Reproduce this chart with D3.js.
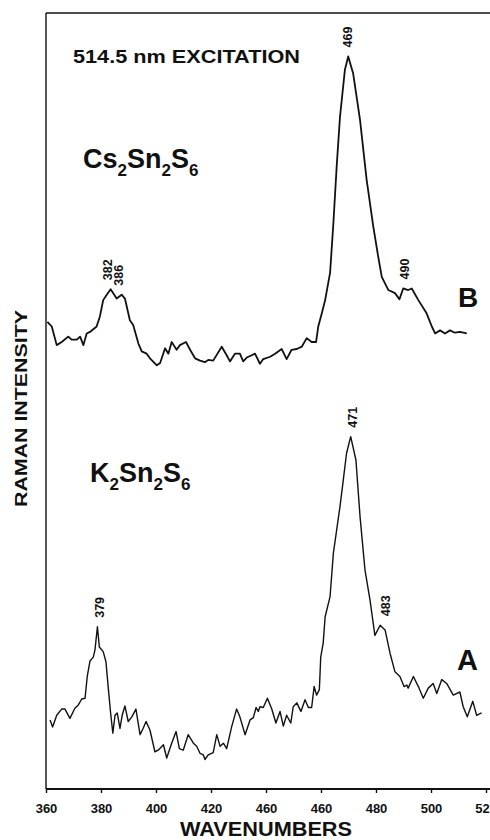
<!DOCTYPE html>
<html>
<head>
<meta charset="utf-8">
<script src="https://cdn.jsdelivr.net/npm/d3@7/dist/d3.min.js"></script>
<style>
  html, body { margin: 0; padding: 0; background: #fff; }
  svg { display: block; }
  text { font-family: "Liberation Sans", Arial, Helvetica, sans-serif; font-weight: bold; fill: #111; }
</style>
</head>
<body>
<svg id="chart" width="490" height="840"></svg>
<script>
// ---- data ----
const tickValues = [360, 380, 400, 420, 440, 460, 480, 500, 520];
const tickLabels = ["360", "380", "400", "420", "460", "460", "480", "500", "52"];

// Cs2Sn2S6 (trace B): [wavenumber, intensity (arb.)]
const spectrumB = [
  [360.5,60.2],[362.1,59.6],[363.9,57.2],[365.7,57.6],[368.1,58.3],[369.3,57.9],[371.2,57.9],[372.4,58.3],
  [373.6,57.2],[374.8,58.7],[376.0,58.9],[378.4,59.6],[379.6,60.9],[380.8,63.0],[382.1,63.7],[383.5,64.4],
  [385.7,63.2],[387.5,63.7],[388.7,63.2],[390.5,60.4],[391.7,59.8],[393.6,57.4],[394.8,56.4],[396.6,56.1],
  [397.8,55.5],[400.3,54.6],[401.5,54.9],[403.3,56.8],[404.5,56.1],[405.7,57.6],[407.5,56.6],[408.7,57.2],
  [410.9,57.6],[412.4,56.6],[414.2,55.5],[416.0,55.2],[417.8,55.0],[419.0,55.3],[420.8,55.2],[423.9,57.0],
  [425.7,55.9],[426.9,55.1],[428.7,56.1],[430.5,56.1],[431.7,55.1],[433.0,55.6],[434.8,55.9],[436.0,56.1],
  [437.8,54.8],[439.0,55.4],[441.5,55.7],[443.3,56.1],[445.7,56.7],[447.5,55.4],[449.3,56.6],[451.2,56.7],
  [453.0,57.0],[454.8,58.1],[456.6,57.6],[458.2,57.6],[459.0,59.6],[460.3,61.3],[461.5,63.0],[463.3,66.5],
  [464.5,72.9],[465.7,80.2],[466.9,86.6],[468.7,92.7],[469.9,94.4],[471.7,92.2],[474.2,86.2],[476.6,78.5],
  [479.0,72.5],[480.8,68.6],[482.1,66.0],[484.5,64.3],[486.9,63.9],[488.5,63.1],[489.9,64.5],[491.7,64.3],
  [493.0,64.5],[495.4,63.0],[498.4,61.3],[500.3,59.6],[501.5,58.7],[503.3,59.1],[505.1,58.7],[506.9,59.1],
  [508.7,58.8],[510.5,58.9],[513.0,58.7]
];

// K2Sn2S6 (trace A): [wavenumber, intensity (arb.)]
const spectrumA = [
  [361.5,8.9],[362.4,8.0],[363.9,9.5],[365.7,10.3],[366.9,10.3],[368.7,9.1],[370.5,10.4],[371.7,10.8],
  [373.0,11.6],[374.2,11.7],[375.0,14.5],[376.0,16.5],[377.2,17.0],[377.8,17.9],[378.7,20.9],[379.4,18.3],
  [380.8,17.7],[381.8,16.4],[382.7,12.8],[383.5,9.8],[384.3,7.2],[385.1,9.5],[385.9,9.8],[386.9,7.8],
  [387.7,9.5],[388.7,10.7],[389.9,8.7],[391.2,9.3],[392.7,10.3],[394.2,7.0],[395.3,7.8],[396.4,8.7],
  [397.8,7.6],[399.6,4.8],[400.8,5.0],[402.7,5.7],[403.9,4.0],[405.7,5.9],[407.3,7.4],[408.5,5.2],
  [409.9,5.0],[411.7,7.0],[413.6,5.9],[414.8,5.5],[416.0,4.6],[417.2,4.4],[417.8,3.8],[419.0,4.4],
  [420.8,4.7],[422.1,7.0],[423.3,5.5],[424.5,5.9],[425.7,5.2],[427.5,8.0],[429.3,10.3],[430.5,9.3],
  [432.4,7.0],[434.2,8.9],[435.4,9.2],[436.4,10.5],[437.2,10.0],[437.8,10.6],[439.0,10.5],[440.5,11.7],
  [442.1,10.3],[443.6,8.5],[445.1,10.0],[446.3,8.1],[447.5,9.5],[449.0,8.5],[449.9,10.6],[451.2,11.1],
  [452.7,10.0],[454.2,11.5],[455.4,10.5],[456.6,10.5],[457.5,13.2],[458.4,12.1],[459.4,12.8],[459.9,17.0],
  [460.8,18.8],[461.5,22.2],[463.3,24.8],[464.5,30.4],[465.7,33.4],[466.9,36.4],[468.1,39.8],[469.3,43.3],
  [470.8,45.4],[472.7,42.4],[474.2,35.1],[476.0,28.2],[477.8,24.4],[479.6,19.8],[481.5,21.1],[483.3,20.5],
  [485.1,17.5],[486.9,15.1],[488.7,14.5],[490.2,13.2],[491.2,13.4],[491.7,13.0],[493.6,14.5],[495.4,13.2],
  [497.2,11.7],[499.0,13.0],[500.8,13.6],[502.1,12.3],[503.9,14.1],[505.7,13.6],[508.1,12.1],[510.5,12.5],
  [511.7,10.6],[513.2,9.3],[515.2,11.3],[516.6,9.5],[518.4,9.8]
];

const peaksB = [{wn: 469, label: "469"}, {wn: 382, label: "382"}, {wn: 386, label: "386"}, {wn: 490, label: "490"}];
const peaksA = [{wn: 471, label: "471"}, {wn: 379, label: "379"}, {wn: 483, label: "483"}];

// ---- drawing ----
const W = 490, H = 840;
const svg = d3.select("#chart");
const mLeft = 46, mRight = 486, mBottom = 789, mTop = 13;

const x = d3.scaleLinear().domain([360, 520]).range([mLeft, mRight]);
const y = d3.scaleLinear().domain([0, 100]).range([mBottom, mTop]);

// frame
const frame = svg.append("g").attr("stroke", "#111").attr("fill", "none");
frame.append("line").attr("x1", mLeft).attr("x2", W).attr("y1", mTop).attr("y2", mTop).attr("stroke-width", 1.6);
frame.append("line").attr("x1", mLeft).attr("x2", mLeft).attr("y1", mTop).attr("y2", mBottom).attr("stroke-width", 1.4);
frame.append("line").attr("x1", mLeft).attr("x2", W).attr("y1", mBottom).attr("y2", mBottom).attr("stroke-width", 1.8);

// x axis
const axis = d3.axisBottom(x)
  .tickValues(tickValues)
  .tickFormat((d, i) => tickLabels[i])
  .tickSize(4)
  .tickSizeOuter(0);
const gx = svg.append("g").attr("transform", `translate(0,${mBottom})`).call(axis);
gx.select(".domain").remove();
gx.selectAll(".tick line").attr("stroke", "#111").attr("stroke-width", 1.4);
gx.selectAll(".tick text")
  .attr("y", 24).attr("dy", 0)
  .attr("dx", (d, i) => i === tickValues.length - 1 ? -4 : 0)
  .style("font-family", '"Liberation Sans", Arial, sans-serif')
  .style("font-weight", "bold")
  .style("font-size", "13px")
  .attr("fill", "#111");

// axis titles
svg.append("text")
  .attr("x", 266).attr("y", 836)
  .attr("text-anchor", "middle")
  .attr("font-size", 20)
  .attr("textLength", 172).attr("lengthAdjust", "spacingAndGlyphs")
  .text("WAVENUMBERS");

svg.append("text")
  .attr("transform", "translate(27,408.5) rotate(-90)")
  .attr("text-anchor", "middle")
  .attr("font-size", 17)
  .attr("textLength", 197).attr("lengthAdjust", "spacingAndGlyphs")
  .text("RAMAN INTENSITY");

// spectra
const line = d3.line().x(d => x(d[0])).y(d => y(d[1]));
svg.append("path").datum(spectrumB)
  .attr("d", line).attr("fill", "none").attr("stroke", "#111")
  .attr("stroke-width", 1.8).attr("stroke-linejoin", "round");
svg.append("path").datum(spectrumA)
  .attr("d", line).attr("fill", "none").attr("stroke", "#111")
  .attr("stroke-width", 1.4).attr("stroke-linejoin", "round");

// peak labels (rotated)
function peakLabels(peaks, data) {
  peaks.forEach(p => {
    const near = data.filter(d => Math.abs(d[0] - p.wn) <= 1.5);
    const vmax = d3.max(near, d => d[1]);
    const px = x(p.wn) + 1.5;
    const py = y(vmax) - 9;
    svg.append("text")
      .attr("transform", `translate(${px + 4.3},${py}) rotate(-90)`)
      .attr("font-size", 12.5)
      .attr("text-anchor", "start")
      .text(p.label);
  });
}
peakLabels(peaksB, spectrumB);
peakLabels(peaksA, spectrumA);

// annotations
svg.append("text")
  .attr("x", 73).attr("y", 63)
  .attr("font-size", 18)
  .attr("textLength", 227).attr("lengthAdjust", "spacingAndGlyphs")
  .text("514.5 nm EXCITATION");

function formula(xp, yp, parts) {
  const t = svg.append("text").attr("x", xp).attr("y", yp).attr("font-size", 27);
  parts.forEach(([s, sub], i) => {
    const prevSub = i > 0 && parts[i - 1][1];
    let dy = 0;
    if (sub && !prevSub) dy = 8;
    if (!sub && prevSub) dy = -8;
    t.append("tspan")
      .attr("font-size", sub ? 17 : 27)
      .attr("dy", dy)
      .text(s);
  });
  return t;
}
formula(83, 168, [["Cs", false], ["2", true], ["Sn", false], ["2", true], ["S", false], ["6", true]]);
formula(90, 482, [["K", false], ["2", true], ["Sn", false], ["2", true], ["S", false], ["6", true]]);

// trace letters
svg.append("text").attr("x", 458).attr("y", 307).attr("font-size", 28).text("B");
svg.append("text").attr("x", 457).attr("y", 670).attr("font-size", 29).text("A");
</script>
</body>
</html>
